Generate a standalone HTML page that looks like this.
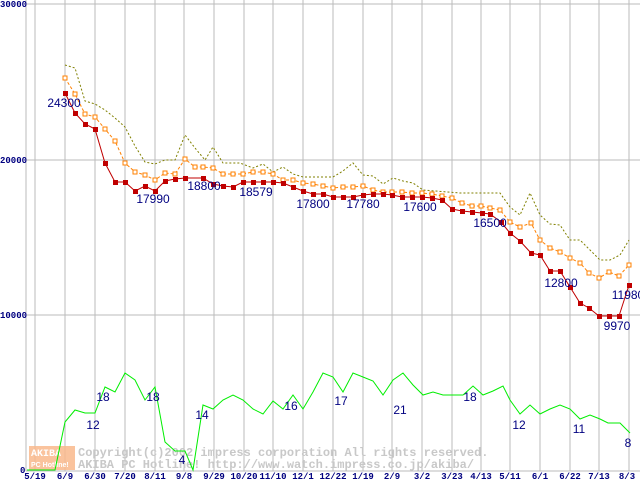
<!DOCTYPE html>
<html><head><meta charset="utf-8"><style>
html,body{margin:0;padding:0;background:#fff;}
svg{display:block;}
.ax{font-family:"Liberation Mono",monospace;font-size:9px;fill:#000080;font-weight:bold;}
.lb{font-family:"Liberation Sans",sans-serif;font-size:12px;fill:#000080;}
.wm{font-family:"Liberation Mono",monospace;font-size:12px;fill:#c8c8c8;font-weight:bold;}
</style></head><body>
<svg width="640" height="480" viewBox="0 0 640 480" xmlns="http://www.w3.org/2000/svg">
<rect width="640" height="480" fill="#fff"/>
<g stroke="#bbbbbb" stroke-width="1">
<line x1="26" y1="4" x2="640" y2="4"/><line x1="26" y1="160" x2="640" y2="160"/><line x1="26" y1="315" x2="640" y2="315"/>
<line x1="26" y1="0" x2="26" y2="471"/>
<line x1="35" y1="0" x2="35" y2="471"/><line x1="65" y1="0" x2="65" y2="471"/><line x1="95" y1="0" x2="95" y2="471"/><line x1="125" y1="0" x2="125" y2="471"/><line x1="155" y1="0" x2="155" y2="471"/><line x1="184" y1="0" x2="184" y2="471"/><line x1="214" y1="0" x2="214" y2="471"/><line x1="244" y1="0" x2="244" y2="471"/><line x1="273" y1="0" x2="273" y2="471"/><line x1="303" y1="0" x2="303" y2="471"/><line x1="333" y1="0" x2="333" y2="471"/><line x1="363" y1="0" x2="363" y2="471"/><line x1="392" y1="0" x2="392" y2="471"/><line x1="422" y1="0" x2="422" y2="471"/><line x1="452" y1="0" x2="452" y2="471"/><line x1="481" y1="0" x2="481" y2="471"/><line x1="510" y1="0" x2="510" y2="471"/><line x1="540" y1="0" x2="540" y2="471"/><line x1="570" y1="0" x2="570" y2="471"/><line x1="599" y1="0" x2="599" y2="471"/><line x1="629" y1="0" x2="629" y2="471"/>
<line x1="26" y1="471" x2="640" y2="471"/>
</g>
<text class="ax" x="0" y="7">30000</text>
<text class="ax" x="0" y="163">20000</text>
<text class="ax" x="0" y="318">10000</text>
<text class="ax" x="20" y="473">0</text>
<g class="ax" text-anchor="middle">
<text x="35" y="479">5/19</text><text x="65" y="479">6/9</text><text x="95" y="479">6/30</text><text x="125" y="479">7/20</text><text x="155" y="479">8/11</text><text x="184" y="479">9/8</text><text x="214" y="479">9/29</text><text x="244" y="479">10/20</text><text x="273" y="479">11/10</text><text x="303" y="479">12/1</text><text x="333" y="479">12/22</text><text x="363" y="479">1/19</text><text x="392" y="479">2/9</text><text x="422" y="479">3/2</text><text x="452" y="479">3/23</text><text x="481" y="479">4/13</text><text x="510" y="479">5/11</text><text x="540" y="479">6/1</text><text x="570" y="479">6/22</text><text x="599" y="479">7/13</text><text x="627" y="479">8/3</text>
</g>
<rect x="29" y="446" width="46" height="24" fill="#f9b98c" opacity="0.85"/>
<text x="31" y="456" font-family="Liberation Mono,monospace" font-size="10" font-weight="bold" fill="#fff">AKIBA</text>
<text x="31" y="467" font-family="Liberation Sans,sans-serif" font-size="7" font-weight="bold" fill="#fff">PC Hotline!</text>
<text class="wm" x="78" y="456">Copyright(c)2002 impress corporation All rights reserved.</text>
<text class="wm" x="78" y="468">AKIBA PC Hotline!  http://www.watch.impress.co.jp/akiba/</text>
<polyline fill="none" stroke="#808000" stroke-width="1" stroke-dasharray="2,2" points="65,65 75,68 85,101 95,104 105,110 115,118 125,127 135,146 145,162 155,164 165,160 175,160 185,135 195,148 205,160 213,147 223,163 240,163 253,168 263,164 273,172 283,167 293,174 303,177 333,177 343,171 353,163 363,175 373,176 383,184 393,178 403,181 413,183 423,190 460,193 500,193 510,207 520,215 530,193 540,215 550,224 560,225 570,240 580,240 590,250 600,260 610,260 620,255 629,240"/>
<polyline fill="none" stroke="#ff8000" stroke-width="1" stroke-dasharray="3,2" points="65,78 75,94 85,114 95,117 105,129 115,141 125,163 135,172 145,175 155,180 165,173 175,174 185,159 195,167 203,167 213,168 223,174 233,174 243,174 253,172 263,172 273,174 283,180 293,180 303,183 313,184 323,186 333,188 343,187 353,187 363,186 373,190 383,192 392,192 402,192 412,193 422,193 432,194 442,196 452,198 462,203 472,206 481,206 490,208 500,210 510,222 520,227 531,223 540,240 550,248 560,252 570,258 580,263 589,273 599,278 609,272 619,276 629,265"/>
<g fill="#fff" stroke="#ff8000" stroke-width="1">
<rect x="63" y="76" width="4" height="4"/><rect x="73" y="92" width="4" height="4"/><rect x="83" y="112" width="4" height="4"/><rect x="93" y="115" width="4" height="4"/><rect x="103" y="127" width="4" height="4"/><rect x="113" y="139" width="4" height="4"/><rect x="123" y="161" width="4" height="4"/><rect x="133" y="170" width="4" height="4"/><rect x="143" y="173" width="4" height="4"/><rect x="153" y="178" width="4" height="4"/><rect x="163" y="171" width="4" height="4"/><rect x="173" y="172" width="4" height="4"/><rect x="183" y="157" width="4" height="4"/><rect x="193" y="165" width="4" height="4"/><rect x="201" y="165" width="4" height="4"/><rect x="211" y="166" width="4" height="4"/><rect x="221" y="172" width="4" height="4"/><rect x="231" y="172" width="4" height="4"/><rect x="241" y="172" width="4" height="4"/><rect x="251" y="170" width="4" height="4"/><rect x="261" y="170" width="4" height="4"/><rect x="271" y="172" width="4" height="4"/><rect x="281" y="178" width="4" height="4"/><rect x="291" y="178" width="4" height="4"/><rect x="301" y="181" width="4" height="4"/><rect x="311" y="182" width="4" height="4"/><rect x="321" y="184" width="4" height="4"/><rect x="331" y="186" width="4" height="4"/><rect x="341" y="185" width="4" height="4"/><rect x="351" y="185" width="4" height="4"/><rect x="361" y="184" width="4" height="4"/><rect x="371" y="188" width="4" height="4"/><rect x="381" y="190" width="4" height="4"/><rect x="390" y="190" width="4" height="4"/><rect x="400" y="190" width="4" height="4"/><rect x="410" y="191" width="4" height="4"/><rect x="420" y="191" width="4" height="4"/><rect x="430" y="192" width="4" height="4"/><rect x="440" y="194" width="4" height="4"/><rect x="450" y="196" width="4" height="4"/><rect x="460" y="201" width="4" height="4"/><rect x="470" y="204" width="4" height="4"/><rect x="479" y="204" width="4" height="4"/><rect x="488" y="206" width="4" height="4"/><rect x="498" y="208" width="4" height="4"/><rect x="508" y="220" width="4" height="4"/><rect x="518" y="225" width="4" height="4"/><rect x="529" y="221" width="4" height="4"/><rect x="538" y="238" width="4" height="4"/><rect x="548" y="246" width="4" height="4"/><rect x="558" y="250" width="4" height="4"/><rect x="568" y="256" width="4" height="4"/><rect x="578" y="261" width="4" height="4"/><rect x="587" y="271" width="4" height="4"/><rect x="597" y="276" width="4" height="4"/><rect x="607" y="270" width="4" height="4"/><rect x="617" y="274" width="4" height="4"/><rect x="627" y="263" width="4" height="4"/>
</g>
<polyline fill="none" stroke="#c00000" stroke-width="1" points="65,93 75,113 85,124 95,129 105,163 115,182 125,182 135,191 145,186 155,191 165,181 175,179 185,178 203,178 213,184 223,186 233,187 243,182 253,182 263,182 273,182 283,183 293,187 303,191 313,194 323,194 333,197 343,197 353,197 363,195 373,194 383,194 392,195 402,197 412,197 422,197 432,198 442,200 452,209 462,211 472,212 482,213 490,214 501,222 510,233 520,241 531,253 540,255 550,271 560,271 570,287 580,303 589,308 599,316 609,316 619,316 629,285"/>
<g fill="#c00000">
<rect x="63" y="91" width="5" height="5"/><rect x="73" y="111" width="5" height="5"/><rect x="83" y="122" width="5" height="5"/><rect x="93" y="127" width="5" height="5"/><rect x="103" y="161" width="5" height="5"/><rect x="113" y="180" width="5" height="5"/><rect x="123" y="180" width="5" height="5"/><rect x="133" y="189" width="5" height="5"/><rect x="143" y="184" width="5" height="5"/><rect x="153" y="189" width="5" height="5"/><rect x="163" y="179" width="5" height="5"/><rect x="173" y="177" width="5" height="5"/><rect x="183" y="176" width="5" height="5"/><rect x="201" y="176" width="5" height="5"/><rect x="211" y="182" width="5" height="5"/><rect x="221" y="184" width="5" height="5"/><rect x="231" y="185" width="5" height="5"/><rect x="241" y="180" width="5" height="5"/><rect x="251" y="180" width="5" height="5"/><rect x="261" y="180" width="5" height="5"/><rect x="271" y="180" width="5" height="5"/><rect x="281" y="181" width="5" height="5"/><rect x="291" y="185" width="5" height="5"/><rect x="301" y="189" width="5" height="5"/><rect x="311" y="192" width="5" height="5"/><rect x="321" y="192" width="5" height="5"/><rect x="331" y="195" width="5" height="5"/><rect x="341" y="195" width="5" height="5"/><rect x="351" y="195" width="5" height="5"/><rect x="361" y="193" width="5" height="5"/><rect x="371" y="192" width="5" height="5"/><rect x="381" y="192" width="5" height="5"/><rect x="390" y="193" width="5" height="5"/><rect x="400" y="195" width="5" height="5"/><rect x="410" y="195" width="5" height="5"/><rect x="420" y="195" width="5" height="5"/><rect x="430" y="196" width="5" height="5"/><rect x="440" y="198" width="5" height="5"/><rect x="450" y="207" width="5" height="5"/><rect x="460" y="209" width="5" height="5"/><rect x="470" y="210" width="5" height="5"/><rect x="480" y="211" width="5" height="5"/><rect x="488" y="212" width="5" height="5"/><rect x="499" y="220" width="5" height="5"/><rect x="508" y="231" width="5" height="5"/><rect x="518" y="239" width="5" height="5"/><rect x="529" y="251" width="5" height="5"/><rect x="538" y="253" width="5" height="5"/><rect x="548" y="269" width="5" height="5"/><rect x="558" y="269" width="5" height="5"/><rect x="568" y="285" width="5" height="5"/><rect x="578" y="301" width="5" height="5"/><rect x="587" y="306" width="5" height="5"/><rect x="597" y="314" width="5" height="5"/><rect x="607" y="314" width="5" height="5"/><rect x="617" y="314" width="5" height="5"/><rect x="627" y="283" width="5" height="5"/>
</g>
<polyline fill="none" stroke="#00ee00" stroke-width="1" points="27,470 55,470 65,422 75,410 85,413 95,413 105,387 115,392 125,373 135,380 145,400 155,387 165,442 175,451 185,451 193,470 203,405 213,409 223,400 233,395 243,400 253,409 263,414 273,401 283,409 293,395 303,409 313,392 323,373 333,377 343,392 353,373 363,377 373,381 383,395 393,380 403,373 413,385 423,395 433,392 443,395 463,395 473,386 483,395 493,391 503,386 510,400 520,414 530,405 540,414 550,409 560,405 570,409 580,419 590,415 600,419 608,423 620,423 630,433"/>
<g class="lb" text-anchor="middle">
<text x="64" y="107">24300</text><text x="153" y="203">17990</text><text x="204" y="190">18800</text><text x="256" y="196">18579</text><text x="313" y="208">17800</text><text x="363" y="208">17780</text><text x="420" y="211">17600</text><text x="490" y="227">16500</text><text x="561" y="287">12800</text><text x="617" y="330">9970</text><text x="628" y="299">11980</text>
<text x="103" y="401">18</text><text x="93" y="429">12</text><text x="153" y="401">18</text><text x="182" y="464">4</text><text x="202" y="419">14</text><text x="291" y="410">16</text><text x="341" y="405">17</text><text x="400" y="414">21</text><text x="470" y="401">18</text><text x="519" y="429">12</text><text x="579" y="433">11</text><text x="628" y="447">8</text>
</g>
</svg>
</body></html>
